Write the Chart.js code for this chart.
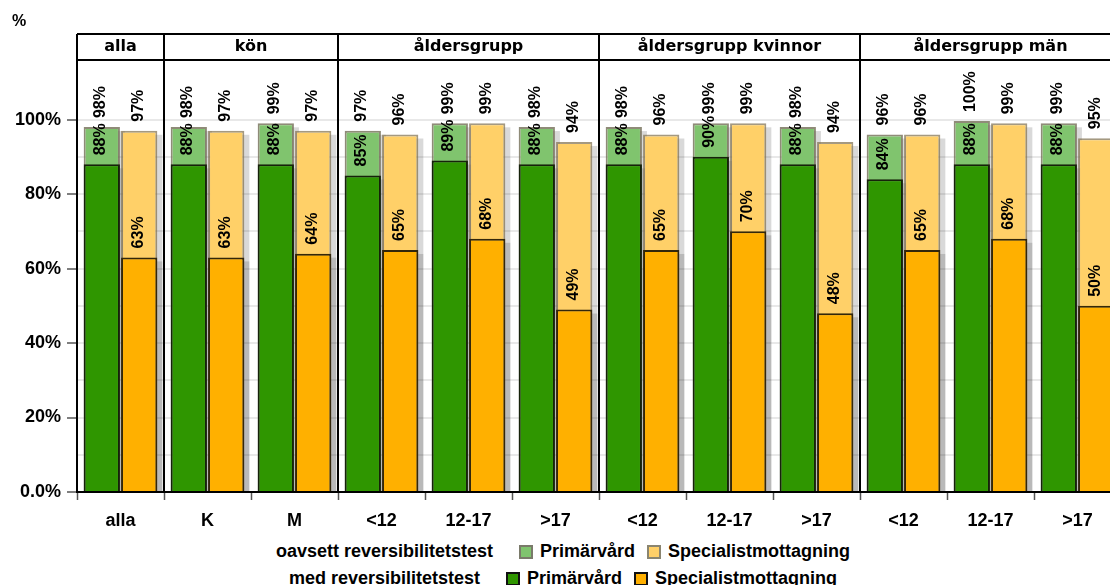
<!DOCTYPE html>
<html>
<head>
<meta charset="utf-8">
<script src="https://cdn.jsdelivr.net/npm/chart.js@4.4.1/dist/chart.umd.min.js"></script>
<style>
  body { margin: 0; width: 1110px; height: 585px; overflow: hidden; background: #fff; font-family: "Liberation Sans", Arial, sans-serif; }
  #wrap { position: absolute; left: 0; top: 0; width: 1125px; height: 535px; }
  #legend { position: absolute; left: 0; top: 538px; width: 1126px; font-weight: bold; font-size: 18px; color: #000; }
  .row { display: flex; justify-content: center; align-items: center; height: 27px; }
  .row .lab { margin-right: 26px; }
  .sw { width: 10px; height: 10px; margin-right: 7px; border: 2px solid; }
  .item { margin-right: 12px; }
</style>
</head>
<body>
<div id="wrap"><canvas id="c" width="1125" height="535"></canvas></div>
<div id="legend">
  <div class="row"><span class="lab">oavsett reversibilitetstest</span>
    <span class="sw" style="background:#80c46e;border-color:#7a7a6a"></span><span class="item">Primärvård</span>
    <span class="sw" style="background:#ffd068;border-color:#8a8570"></span><span>Specialistmottagning</span></div>
  <div class="row"><span class="lab">med reversibilitetstest</span>
    <span class="sw" style="background:#2f9600;border-color:#111"></span><span class="item">Primärvård</span>
    <span class="sw" style="background:#ffb000;border-color:#111"></span><span>Specialistmottagning</span></div>
</div>
<script>
const categories = ["alla", "K", "M", "<12", "12-17", ">17", "<12", "12-17", ">17", "<12", "12-17", ">17"];
const panels = ["alla", "kön", "åldersgrupp", "åldersgrupp kvinnor", "åldersgrupp män"];
const panelSizes = [1, 2, 3, 3, 3];

// oavsett reversibilitetstest
const primarAll = [98, 98, 99, 97, 99, 98, 98, 99, 98, 96, 99.6, 99];
const specAll = [97, 97, 97, 96, 99, 94, 96, 99, 94, 96, 99, 95];
// med reversibilitetstest
const primarMed = [88, 88, 88, 85, 89, 88, 88, 90, 88, 84, 88, 88];
const specMed = [63, 63, 64, 65, 68, 49, 65, 70, 48, 65, 68, 50];

const yTicks = [0, 20, 40, 60, 80, 100];

// grey drop shadow behind every bar
const shadowPlugin = {
  id: "shadows",
  beforeDatasetsDraw(chart) {
    const ctx = chart.ctx;
    const base = chart.scales.y.getPixelForValue(0);
    ctx.save();
    ctx.fillStyle = "rgba(0,0,0,0.15)";
    chart.data.datasets.forEach((ds, i) => {
      chart.getDatasetMeta(i).data.forEach(el => {
        ctx.fillRect(el.x - el.width / 2 + 5, el.y + 4, el.width, base - el.y - 4);
      });
    });
    ctx.restore();
  }
};

// rotated value labels above each bar
const labelPlugin = {
  id: "valueLabels",
  afterDatasetsDraw(chart) {
    const ctx = chart.ctx;
    ctx.save();
    ctx.fillStyle = "#000";
    ctx.font = "bold 16px 'Liberation Sans', Arial, sans-serif";
    ctx.textAlign = "left";
    ctx.textBaseline = "middle";
    chart.data.datasets.forEach((ds, i) => {
      chart.getDatasetMeta(i).data.forEach((el, j) => {
        ctx.save();
        ctx.translate(el.x - 1, el.y - 9);
        ctx.rotate(-Math.PI / 2);
        ctx.fillText(Math.round(ds.data[j]) + "%", 0, 0);
        ctx.restore();
      });
    });
    ctx.restore();
  }
};

// panel header strip, dividers and the "%" unit
const panelPlugin = {
  id: "panels",
  afterDraw(chart) {
    const ctx = chart.ctx;
    const area = chart.chartArea;
    const x = chart.scales.x;
    const top = area.top - 26;
    ctx.save();
    ctx.strokeStyle = "#000";
    ctx.lineWidth = 2;
    ctx.beginPath();
    ctx.moveTo(area.left, top); ctx.lineTo(area.right, top);
    ctx.moveTo(area.left, area.top); ctx.lineTo(area.right, area.top);
    ctx.moveTo(area.left, top); ctx.lineTo(area.left, area.bottom);
    ctx.stroke();
    ctx.fillStyle = "#000";
    ctx.font = "bold 16px 'DejaVu Sans', Verdana, sans-serif";
    ctx.textAlign = "center";
    ctx.textBaseline = "middle";
    let start = 0;
    panels.forEach((name, p) => {
      const end = start + panelSizes[p] - 1;
      const x0 = start === 0 ? area.left : (x.getPixelForValue(start - 1) + x.getPixelForValue(start)) / 2;
      const x1 = end === categories.length - 1 ? area.right : (x.getPixelForValue(end) + x.getPixelForValue(end + 1)) / 2;
      if (end < categories.length - 1) {
        ctx.beginPath();
        ctx.moveTo(x1, top); ctx.lineTo(x1, area.bottom);
        ctx.stroke();
      }
      ctx.fillText(name, (x0 + x1) / 2, top + 13);
      start = end + 1;
    });
    ctx.font = "bold 16px 'Liberation Sans', Arial, sans-serif";
    ctx.textAlign = "left";
    ctx.fillText("%", 12, 22);
    ctx.restore();
  }
};

new Chart(document.getElementById("c"), {
  type: "bar",
  data: {
    labels: categories,
    datasets: [
      { label: "med Primärvård", data: primarMed, stack: "P", backgroundColor: "#2f9600", borderColor: "#16220a", borderWidth: 2 },
      { label: "med Specialistmottagning", data: specMed, stack: "S", backgroundColor: "#ffb000", borderColor: "#33270a", borderWidth: 2 },
      { label: "oavsett Primärvård", data: primarAll, stack: "P", backgroundColor: "#80c46e", borderColor: "rgba(105,100,75,0.75)", borderWidth: 2 },
      { label: "oavsett Specialistmottagning", data: specAll, stack: "S", backgroundColor: "#ffd068", borderColor: "rgba(125,110,75,0.7)", borderWidth: 2 }
    ]
  },
  options: {
    responsive: false,
    animation: false,
    devicePixelRatio: 1,
    layout: { padding: { top: 60, right: 4, left: 0, bottom: 0 } },
    categoryPercentage: 0.86,
    barPercentage: 0.97,
    plugins: {
      legend: { display: false },
      tooltip: { enabled: false }
    },
    scales: {
      x: {
        stacked: true,
        afterFit: s => { s.height = 43; },
        grid: { drawOnChartArea: false, tickLength: 8, tickColor: "#555", tickWidth: 1.5 },
        border: { color: "#000", width: 2 },
        ticks: { color: "#000", padding: 10, font: { family: "'Liberation Sans', Arial", size: 18, weight: "bold" } }
      },
      y: {
        stacked: false,
        min: 0,
        max: 116,
        afterFit: s => { s.width = 77; },
        afterBuildTicks: s => { s.ticks = s.ticks.filter(t => t.value <= 100); },
        grid: {
          color: c => (c.tick && c.tick.value > 0 ? "rgba(0,0,0,0.09)" : "transparent"),
          lineWidth: 2,
          tickLength: 10,
          tickColor: c => (yTicks.includes(c.tick.value) ? "#555" : "transparent"),
          tickWidth: 1.5
        },
        border: { color: "#000", width: 2 },
        ticks: {
          stepSize: 10,
          padding: 6,
          color: "#000",
          font: { family: "'Liberation Sans', Arial", size: 18, weight: "bold" },
          callback: v => (yTicks.includes(v) ? (v === 0 ? "0.0%" : v + "%") : "")
        }
      }
    }
  },
  plugins: [shadowPlugin, labelPlugin, panelPlugin]
});
</script>
</body>
</html>
